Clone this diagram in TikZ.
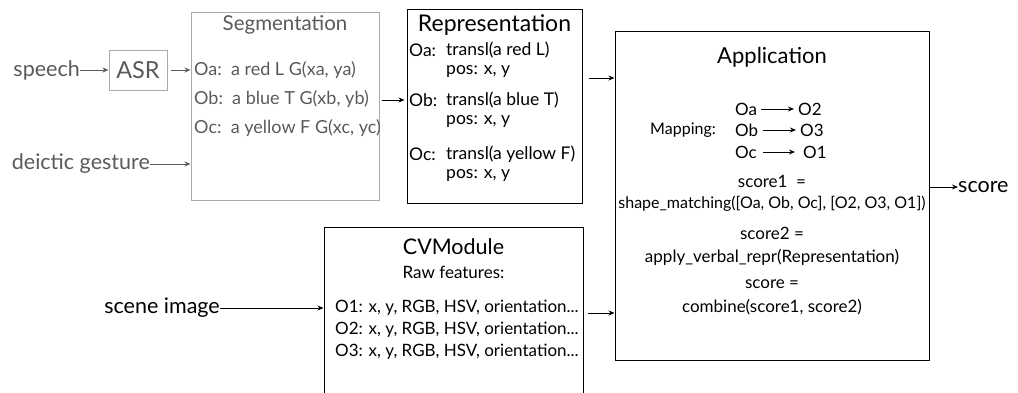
\documentclass[tikz,border=0pt]{standalone}
\usepackage{fontspec}
\setmainfont{Lato}
\usepackage{tikz}
\usepackage{xcolor}
\usetikzlibrary{arrows.meta}
\usetikzlibrary{positioning}

\definecolor{segline}{HTML}{ABABAB}
\definecolor{segtext}{HTML}{5A5A5A}

\newcommand{\fs}[1]{\fontsize{#1}{#1}\selectfont}

\begin{document}
\begin{tikzpicture}[x=1pt, y=-1pt,
    box/.style={draw, line width=1pt, inner sep=0pt},
    graybox/.style={box, draw=segline},
    arr/.style={-{Stealth[length=6pt, width=5pt]}, line width=1pt},
    txt/.style={inner sep=0pt, anchor=west},
    mid/.style={inner sep=0pt},
    side/.style={inner sep=0pt, font=\fs{21.5}}]
    \useasboundingbox (0,0) rectangle (1018,392);
    %% boxes
    \node[graybox, minimum width=188pt, minimum height=188pt] (seg) at (285,106) {};
    \node[graybox, minimum width=58pt, minimum height=40pt, text=segtext,
          font=\fs{23.5}] (asr) at (138,70) {ASR};
    \node[box, minimum width=175pt, minimum height=194pt] (repr) at (494.5,106) {};
    \node[box, minimum width=314pt, minimum height=329pt] (app) at (772,195.5) {};
    \node[box, minimum width=259pt, minimum height=176pt] (cv) at (453.5,315) {};
    %% inputs
    \node[side, anchor=east, text=segtext] (speech) at (80,70) {speech};
    \node[side, anchor=east, text=segtext] (deictic) at (150,164) {deictic gesture};
    \node[side, anchor=east] (scene) at (220,308) {scene image};
    \node[side, anchor=west] (score) at (958,187) {score};
    %% Segmentation
    \begin{scope}[every node/.style={text=segtext, font=\fs{18}}]
        \node[mid, font=\fs{20.5}] (segT) at (285,25) {Segmentation};
        \node[txt] (segA) at (194,70) {Oa:\ \ a red L G(xa, ya)};
        \node[txt] (segB) at (194,99) {Ob:\ \ a blue T G(xb, yb)};
        \node[txt] (segC) at (194,128) {Oc:\ \ a yellow F G(xc, yc)};
    \end{scope}
    %% Representation
    \begin{scope}[every node/.style={font=\fs{17.5}}]
        \node[mid, font=\fs{23}] (repT) at (494.5,25) {Representation};
        \node[txt] (repA) at (409,50) {Oa:};
        \node[txt] (repAt) at (446,50) {transl(a red L)};
        \node[txt] (repAp) at (446,71) {pos: x, y};
        \node[txt] (repB) at (409,100) {Ob:};
        \node[txt] (repBt) at (446,100) {transl(a blue T)};
        \node[txt] (repBp) at (446,121) {pos: x, y};
        \node[txt] (repC) at (409,154) {Oc:};
        \node[txt] (repCt) at (446,154) {transl(a yellow F)};
        \node[txt] (repCp) at (446,175) {pos: x, y};
    \end{scope}
    %% Application
    \begin{scope}[every node/.style={font=\fs{17}}]
        \node[mid, font=\fs{22}] (appT) at (772,57) {Application};
        \node[mid, anchor=east, font=\fs{16}] (map) at (716,130) {Mapping:};
        \node[txt] (mOa) at (735,109) {Oa};
        \node[txt] (mOb) at (735,130) {Ob};
        \node[txt] (mOc) at (735,152) {Oc};
        \node[txt] (mO2) at (798,109) {O2};
        \node[txt] (mO3) at (800,130) {O3};
        \node[txt] (mO1) at (803,152) {O1};
        \node[mid] (s1) at (772,181) {score1 \ =};
        \node[mid, font=\fs{16}] (s1f) at (772,204) {shape\_matching([Oa, Ob, Oc], [O2, O3, O1])};
        \node[mid] (s2) at (772,233) {score2 =};
        \node[mid] (s2f) at (772,257) {apply\_verbal\_repr(Representation)};
        \node[mid] (s3) at (772,284) {score =};
        \node[mid] (s3f) at (772,307) {combine(score1, score2)};
    \end{scope}
    %% CVModule
    \begin{scope}[every node/.style={font=\fs{17}}]
        \node[mid, font=\fs{21.5}] (cvT) at (453.5,247) {CVModule};
        \node[mid] (cvR) at (453.5,272) {Raw features:};
        \foreach \k/\y in {1/308, 2/330, 3/352}
            \node[txt] (cv\k) at (335,\y) {O\k: x, y, RGB, HSV, orientation...};
    \end{scope}
    %% connectors
    \draw[arr, segtext] (speech) -- (asr);
    \draw[arr, segtext] ([xshift=3pt]asr.east |- segA) -- (asr.east -| seg.west);
    \draw[arr, segtext] (deictic) -- (deictic -| seg.west);
    \draw[arr] ([xshift=2pt]seg.east |- repB) -- ([xshift=-2pt]repB.west -| repr.west);
    \draw[arr] ([xshift=6pt,yshift=28pt]repr.east) -- ([yshift=28pt]repr.east -| app.west);
    \draw[arr] ([xshift=4pt]cv.east |- 0,313) -- (app.west |- 0,313);
    \draw[arr] (scene) -- (scene -| cv.west);
    \draw[arr] (app.east |- score) -- (score);
    \draw[arr] ([xshift=4pt]mOa.east) -- ([xshift=-4pt]mO2.west);
    \draw[arr] ([xshift=5pt]mOb.east) -- ([xshift=-4pt]mO3.west);
    \draw[arr] ([xshift=6pt]mOc.east) -- ([xshift=-8pt]mO1.west);
\end{tikzpicture}
\end{document}
